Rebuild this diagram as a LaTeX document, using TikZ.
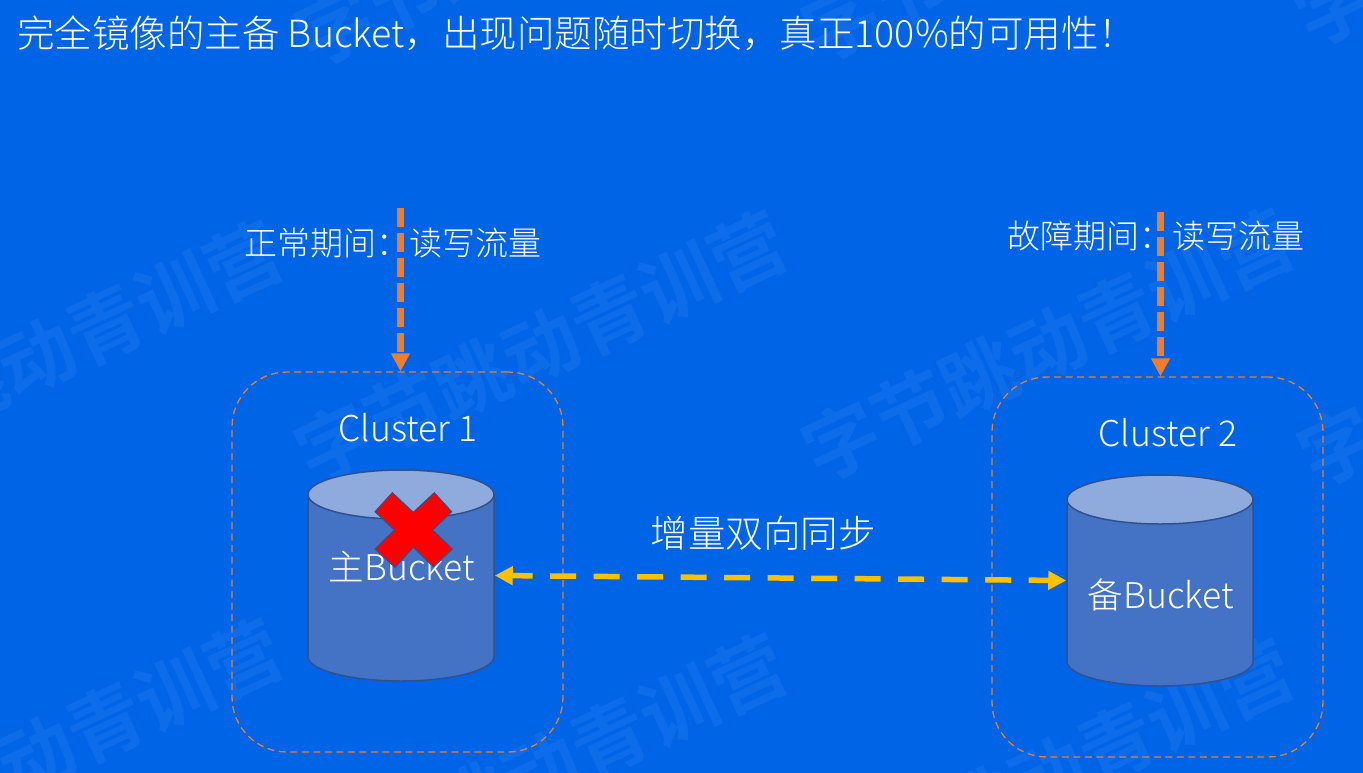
\documentclass[tikz,border=0pt]{standalone}
\usepackage{fontspec}
\usetikzlibrary{shapes.geometric,arrows.meta,positioning}
\setmainfont{Noto Sans CJK SC}[UprightFont=* Light,BoldFont=* Bold]
\definecolor{slidebg}{HTML}{0064E6}
\definecolor{markcol}{HTML}{0C6CE9}
\definecolor{trafficcol}{HTML}{ED7D31}
\definecolor{synccol}{HTML}{FFC000}
\definecolor{cylbody}{HTML}{4472C4}
\definecolor{cyltop}{HTML}{8FAADC}
\definecolor{cylline}{HTML}{2F528F}
\tikzset{
  label/.style={text=white,font=\fontsize{33}{36}\selectfont,inner sep=0pt},
  biglabel/.style={text=white,font=\fontsize{35.5}{38}\selectfont,inner sep=0pt},
  headlabel/.style={text=white,font=\fontsize{37.5}{40}\selectfont,inner sep=0pt},
  clusterbox/.style={rectangle,draw=trafficcol,dash pattern=on 7pt off 4.5pt,line width=1.3pt,
                     rounded corners=55pt,minimum width=331pt,minimum height=380pt},
  bucket/.style={cylinder,shape border rotate=90,draw=cylline,line width=1.5pt,shape aspect=4.9,
                 cylinder uses custom fill,cylinder body fill=cylbody,cylinder end fill=cyltop,
                 minimum width=186pt,minimum height=211pt,inner sep=5pt,anchor=shape center},
  traffic/.style={-{Triangle[length=18pt,width=18pt]},draw=trafficcol,line width=6.5pt,
                  dash pattern=on 18.7pt off 6.3pt},
  sync/.style={{Triangle[length=18pt,width=18pt]}-{Triangle[length=18pt,width=18pt]},draw=synccol,
               line width=5.5pt,dash pattern=on 26pt off 17.5pt,dash phase=5pt},
  watermark/.style={text=markcol,font=\fontsize{76}{76}\selectfont\bfseries,rotate=25,inner sep=0pt},
}
\begin{document}
\begin{tikzpicture}[x=1pt,y=-1pt]
  \useasboundingbox (0,0) rectangle (1363,772);
  \fill[slidebg] (-5,-5) rectangle (1368,777);

  \node[watermark] (markA) at (37,357) {字节跳动青训营};
  \node[watermark] (markB) at (541,347) {字节跳动青训营};
  \node[watermark] (markC) at (1048,345) {字节跳动青训营};
  \node[watermark] (markD) at (37,755) {字节跳动青训营};
  \node[watermark] (markE) at (541,770) {字节跳动青训营};
  \node[watermark] (markF) at (1048,775) {字节跳动青训营};
  \node[watermark] (markG) at (1544,350) {字节跳动青训营};
  \node[watermark] (markH) at (541,-70) {字节跳动青训营};
  \node[watermark] (markI) at (1048,-75) {字节跳动青训营};
  \node[watermark] (markJ) at (1540,-90) {字节跳动青训营};

  \node[headlabel,anchor=west] (title) at (17,33)
    {完全镜像的主备 Bucket，出现问题随时切换，真正100\%的可用性！};

  \node[clusterbox] (boxA) at (397.5,562) {};
  \node[clusterbox] (boxB) at (1157.5,567) {};
  \node[bucket] (cylA) at (401,575.5) {};
  \node[bucket] (cylB) at (1160,580.5) {};

  \node[biglabel] (nameA) at (408,428) {Cluster 1};
  \node[biglabel] (nameB) at (1168,433) {Cluster 2};
  \node[biglabel] (mainA) at (402,567) {主Bucket};
  \node[biglabel] (backupB) at (1161,595) {备Bucket};

  \coordinate (topA) at (400.5,208);
  \coordinate (topB) at (1160.5,212);
  \draw[traffic] (topA) -- (topA |- boxA.north);
  \draw[traffic] (topB) -- (topB |- boxB.north);
  \node[label] (normal) at (393,243) {正常期间：读写流量};
  \node[label] (fault) at (1156,236) {故障期间：读写流量};

  \draw[sync] (cylA.east |- cylA.shape center) -- (cylB.west |- cylB.shape center);
  \node[headlabel] (syncnote) at (763,533) {增量双向同步};

  \draw[draw=cylline,line width=1pt,fill=red]
    (392.3,492.7) -- (413.3,512.3) -- (434.3,492.7) -- (451.7,511.7) -- (432.7,530)
    -- (452.3,549) -- (433.3,566.7) -- (413.3,547.3) -- (395,567.3) -- (375,549)
    -- (394.3,530) -- (375,511.7) -- cycle;
\end{tikzpicture}
\end{document}
